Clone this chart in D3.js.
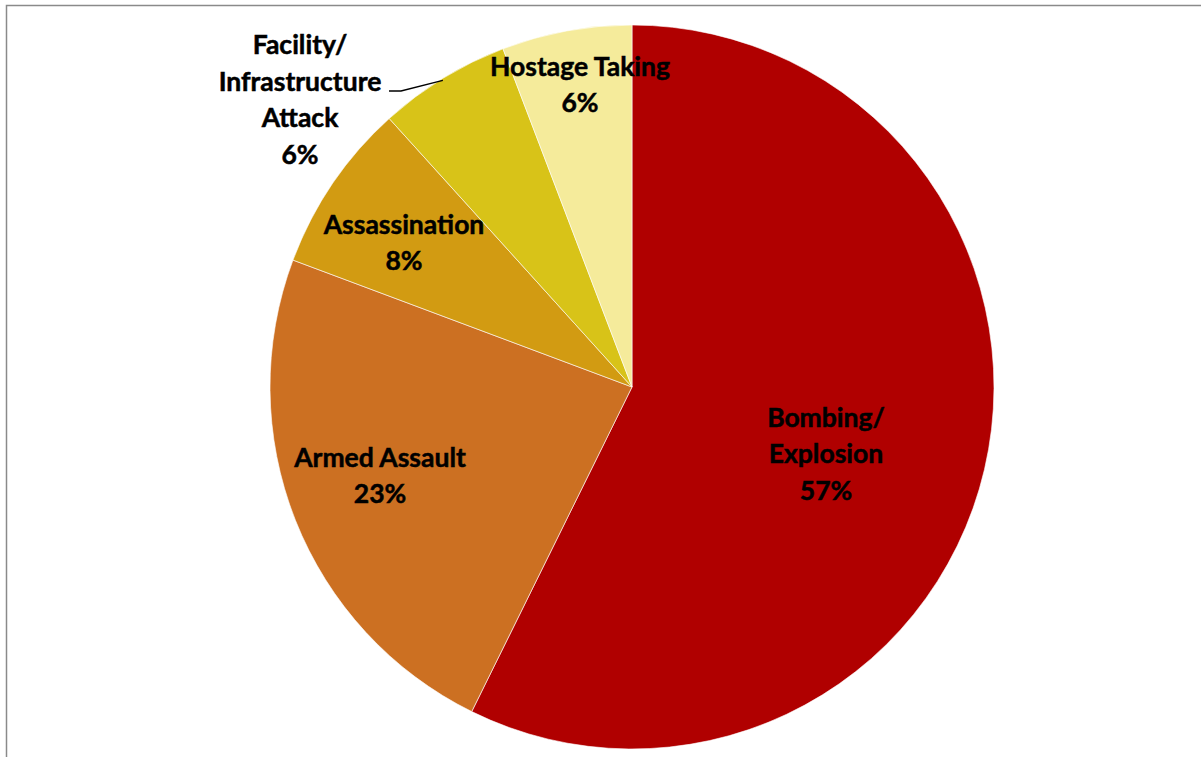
<!DOCTYPE html>
<html>
<head>
<meta charset="utf-8">
<script src="https://cdn.jsdelivr.net/npm/d3@7"></script>
<style>
  html, body { margin: 0; padding: 0; background: #fff; }
  #chart { width: 1201px; height: 757px; }
</style>
</head>
<body>
<div id="chart"></div>
<script>
// slice order: clockwise from 12 o'clock
const categories = ["Bombing/Explosion", "Armed Assault", "Assassination", "Facility/Infrastructure Attack", "Hostage Taking"];
const shares = [57.3, 23.4, 7.6, 5.9, 5.8];
const labelLines = [
    ["Bombing/", "Explosion"],
    ["Armed Assault"],
    ["Assassination"],
    ["Facility/", "Infrastructure", "Attack"],
    ["Hostage Taking"]
];
const colors = ["#b00000", "#cc7022", "#d29b12", "#d8c318", "#f5eb9b"];

const WIDTH = 1201, HEIGHT = 757;
const CX = 632, CY = 387, R = 362;
const FONT = "Lato, 'Open Sans', sans-serif";
const FONT_SIZE = 26.5, LINE_H = 36.5;

// label block centres, as offset from the pie centre (Excel's placement)
const labelLayout = {
    "Bombing/Explosion": { dx: 194, dy: 67 },
    "Armed Assault": { dx: -252, dy: 89 },
    "Assassination": { dx: -228, dy: -144 },
    "Facility/Infrastructure Attack": { dx: -332, dy: -287, leader: true },
    "Hostage Taking": { dx: -52, dy: -302 }
};

const data = categories.map((c, i) => ({ name: c, value: shares[i], lines: labelLines[i], color: colors[i] }));
const total = d3.sum(shares);
const pct = d3.format(".0%");

const svg = d3.select("#chart")
    .append("svg")
    .attr("width", WIDTH)
    .attr("height", HEIGHT);

// frame of the original figure (only top and left sides visible)
svg.append("path")
    .attr("d", `M6.5,${HEIGHT} V5.5 H${WIDTH}`)
    .attr("fill", "none")
    .attr("stroke", "#8a8a8a")
    .attr("stroke-width", 1.5);

const g = svg.append("g")
    .attr("transform", `translate(${CX}, ${CY})`);

const pie = d3.pie()
    .value(d => d.value)
    .sort(null);

const arc = d3.arc()
    .innerRadius(0)
    .outerRadius(R);

const arcs = pie(data);

g.selectAll("path.slice")
    .data(arcs)
    .join("path")
    .attr("class", "slice")
    .attr("d", arc)
    .attr("fill", d => d.data.color)
    .attr("stroke", "#fff")
    .attr("stroke-width", 0.6);

// leader line for the outside label
const edgeArc = d3.arc().innerRadius(R).outerRadius(R);
arcs.forEach(d => {
    const lay = labelLayout[d.data.name];
    if (!lay.leader) return;
    const [ex, ey] = edgeArc.centroid(d);
    const sx = lay.dx + 89, sy = lay.dy - 9;
    g.append("polyline")
        .attr("points", `${sx},${sy} ${sx + 12},${sy} ${ex},${ey + 2}`)
        .attr("fill", "none")
        .attr("stroke", "#000")
        .attr("stroke-width", 1.3);
});

const labels = g.selectAll("text.label")
    .data(arcs)
    .join("text")
    .attr("class", "label")
    .attr("text-anchor", "middle")
    .style("font-family", FONT)
    .style("font-weight", "bold")
    .style("font-size", FONT_SIZE + "px")
    .style("fill", "#000")
    .style("stroke", "#000")
    .style("stroke-width", 0.5);

labels.each(function(d) {
    const lay = labelLayout[d.data.name];
    const lines = d.data.lines.concat([pct(d.data.value / total)]);
    const top = lay.dy - (lines.length - 1) * LINE_H / 2 + 9;
    d3.select(this).selectAll("tspan")
        .data(lines)
        .join("tspan")
        .attr("x", lay.dx)
        .attr("y", (t, i) => top + i * LINE_H)
        .text(t => t);
});
</script>
</body>
</html>
